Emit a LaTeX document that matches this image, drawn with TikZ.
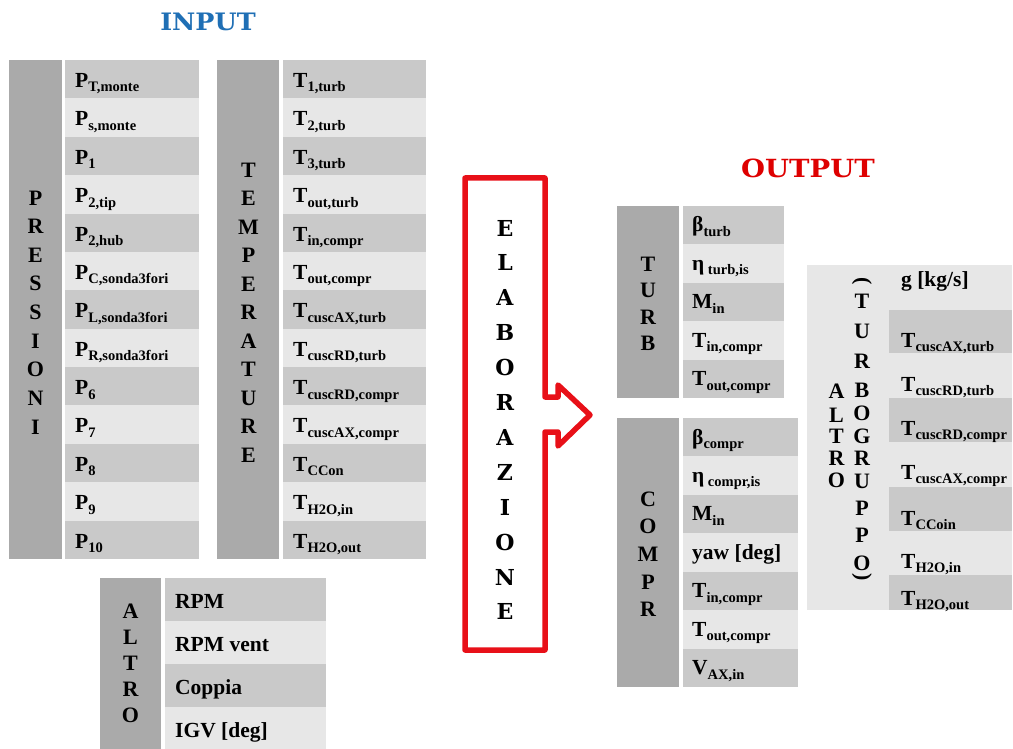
\documentclass[tikz,border=0pt]{standalone}
\usepackage{fontspec}
\setmainfont{Liberation Serif}
\newfontfamily\titlefont{DejaVu Serif}
\usetikzlibrary{calc}
\definecolor{labgray}{RGB}{170,170,170}
\definecolor{darkrow}{RGB}{201,201,201}
\definecolor{lightrow}{RGB}{231,231,231}
\definecolor{inblue}{RGB}{31,111,181}
\definecolor{outred}{RGB}{222,0,0}
\definecolor{arrred}{RGB}{232,16,24}
\newcommand\vs[1]{\raisebox{-4.5pt}{\fontsize{14.5}{14.5}\selectfont\bfseries #1}}
\newcommand\vt{\fontsize{21.5}{21.5}\selectfont\bfseries}
\tikzset{
  cellbox/.style={inner sep=0pt, outer sep=0pt, anchor=north west, draw=none},
  val/.style={inner sep=0pt, anchor=base west, font=\vt},
  lab/.style={inner sep=0pt, font=\fontsize{22}{22}\selectfont\bfseries},
  elab/.style={inner sep=0pt, font=\titlefont\fontsize{22}{22}\selectfont\bfseries},
}
\begin{document}
\begin{tikzpicture}[x=1pt,y=-1pt]
\useasboundingbox (0,0) rectangle (1013,749);
% titles
\node[inner sep=0pt, font=\titlefont\fontsize{24}{24}\selectfont\bfseries, text=inblue, xscale=1.06] (intitle) at (208,22) {INPUT};
\node[inner sep=0pt, font=\titlefont\fontsize{25}{25}\selectfont\bfseries, text=outred, xscale=1.1] (outtitle) at (808,168) {OUTPUT};
% PRESSIONI
\node[cellbox, fill=labgray, minimum width=53pt, minimum height=499pt] (preslab) at (9,60) {};
\foreach \txt [count=\i] in {P\vs{T,monte}, P\vs{s,monte}, P\vs{1}, P\vs{2,tip}, P\vs{2,hub}, P\vs{C,sonda3fori}, P\vs{L,sonda3fori}, P\vs{R,sonda3fori}, P\vs{6}, P\vs{7}, P\vs{8}, P\vs{9}, P\vs{10}}{
  \pgfmathsetmacro\ytop{60+(\i-1)*38.385}
  \ifodd\i\def\rc{darkrow}\else\def\rc{lightrow}\fi
  \node[cellbox, fill=\rc, minimum width=134pt, minimum height=38.6pt] (pres\i) at (65,\ytop) {};
  \node[val] (prest\i) at ($(pres\i.north west)+(10,27.5)$) {\txt};
}
\foreach \l [count=\i] in {P,R,E,S,S,I,O,N,I}
  \node[lab] (presl\i) at (35.5,{198+(\i-1)*28.6}) {\l};
% TEMPERATURE
\node[cellbox, fill=labgray, minimum width=62pt, minimum height=499pt] (templab) at (217,60) {};
\foreach \txt [count=\i] in {T\vs{1,turb}, T\vs{2,turb}, T\vs{3,turb}, T\vs{out,turb}, T\vs{in,compr}, T\vs{out,compr}, T\vs{cuscAX,turb}, T\vs{cuscRD,turb}, T\vs{cuscRD,compr}, T\vs{cuscAX,compr}, T\vs{CCon}, T\vs{H2O,in}, T\vs{H2O,out}}{
  \pgfmathsetmacro\ytop{60+(\i-1)*38.385}
  \ifodd\i\def\rc{darkrow}\else\def\rc{lightrow}\fi
  \node[cellbox, fill=\rc, minimum width=143pt, minimum height=38.6pt] (temp\i) at (283,\ytop) {};
  \node[val] (tempt\i) at ($(temp\i.north west)+(10,27.5)$) {\txt};
}
\foreach \l [count=\i] in {T,E,M,P,E,R,A,T,U,R,E}
  \node[lab] (templ\i) at (248.5,{170+(\i-1)*28.5}) {\l};
% ALTRO (input)
\node[cellbox, fill=labgray, minimum width=61pt, minimum height=171pt] (altlab) at (100,578) {};
\foreach \txt [count=\i] in {RPM, RPM vent, Coppia, IGV [deg]}{
  \pgfmathsetmacro\ytop{578+(\i-1)*43}
  \ifodd\i\def\rc{darkrow}\else\def\rc{lightrow}\fi
  \node[cellbox, fill=\rc, minimum width=161pt, minimum height=43.2pt] (alt\i) at (165,\ytop) {};
  \node[val] (altt\i) at ($(alt\i.north west)+(10,30.5)$) {\txt};
}
\foreach \l [count=\i] in {A,L,T,R,O}
  \node[lab] (altl\i) at (130.5,{611+(\i-1)*26.2}) {\l};
% ELABORAZIONE arrow
\draw[arrred, line width=5.5pt, line join=round] (465,178) -- (545,178) -- (545,397) -- (558,397) -- (558,385) -- (590,415) -- (558,446) -- (558,432) -- (545,432) -- (545,650) -- (465,650) -- cycle;
\foreach \l [count=\i] in {E,L,A,B,O,R,A,Z,I,O,N,E}
  \node[elab] (elab\i) at (505,{228+(\i-1)*34.9}) {\l};
% TURB
\node[cellbox, fill=labgray, minimum width=62pt, minimum height=192pt] (turblab) at (617,206) {};
\foreach \txt [count=\i] in {β\vs{turb}, η\,\vs{turb,is}, M\vs{in}, T\vs{in,compr}, T\vs{out,compr}}{
  \pgfmathsetmacro\ytop{206+(\i-1)*38.4}
  \ifodd\i\def\rc{darkrow}\else\def\rc{lightrow}\fi
  \node[cellbox, fill=\rc, minimum width=101pt, minimum height=38.6pt] (turb\i) at (683,\ytop) {};
  \node[val] (turbt\i) at ($(turb\i.north west)+(9,26)$) {\txt};
}
\foreach \l [count=\i] in {T,U,R,B}
  \node[lab] (turbl\i) at (648,{264+(\i-1)*26.5}) {\l};
% COMPR
\node[cellbox, fill=labgray, minimum width=62pt, minimum height=269pt] (comprlab) at (617,418) {};
\foreach \txt [count=\i] in {β\vs{compr}, η\,\vs{compr,is}, M\vs{in}, yaw [deg], T\vs{in,compr}, T\vs{out,compr}, V\vs{AX,in}}{
  \pgfmathsetmacro\ytop{418+(\i-1)*38.43}
  \ifodd\i\def\rc{darkrow}\else\def\rc{lightrow}\fi
  \node[cellbox, fill=\rc, minimum width=115pt, minimum height=38.6pt] (compr\i) at (683,\ytop) {};
  \node[val] (comprt\i) at ($(compr\i.north west)+(9,26)$) {\txt};
}
\foreach \l [count=\i] in {C,O,M,P,R}
  \node[lab] (comprl\i) at (648,{499+(\i-1)*27.6}) {\l};
% ALTRO (TURBOGRUPPO)
\node[cellbox, fill=lightrow, minimum width=205pt, minimum height=345pt] (tgbox) at (807,265) {};
\foreach \a/\b [count=\i] in {310/353, 398/442, 487/531, 575/610}{
  \pgfmathsetmacro\hh{\b-\a}
  \node[cellbox, fill=darkrow, minimum width=123pt, minimum height=\hh pt] (tgrow\i) at (889,\a) {};
}
\foreach \yb/\txt [count=\i] in {287/{g [kg/s]}, 347/{T\vs{cuscAX,turb}}, 391/{T\vs{cuscRD,turb}}, 435/{T\vs{cuscRD,compr}}, 479/{T\vs{cuscAX,compr}}, 525/{T\vs{CCoin}}, 568/{T\vs{H2O,in}}, 605/{T\vs{H2O,out}}}
  \node[val] (tgt\i) at (901,\yb) {\txt};
\foreach \l/\yy [count=\i] in {A/391.7, L/415, T/436.7, R/458, O/480}
  \node[lab] (tgal\i) at (836.5,\yy) {\l};
\node[lab, rotate=-90] (tgpo) at (862,281) {(};
\foreach \l/\yy [count=\i] in {T/301.7, U/331.7, R/361.7, B/390, O/413, G/436.7, R/458, U/481.7, P/508, P/535, O/563}
  \node[lab] (tgl\i) at (862,\yy) {\l};
\node[lab, rotate=-90] (tgpc) at (862,577) {)};
\end{tikzpicture}
\end{document}
